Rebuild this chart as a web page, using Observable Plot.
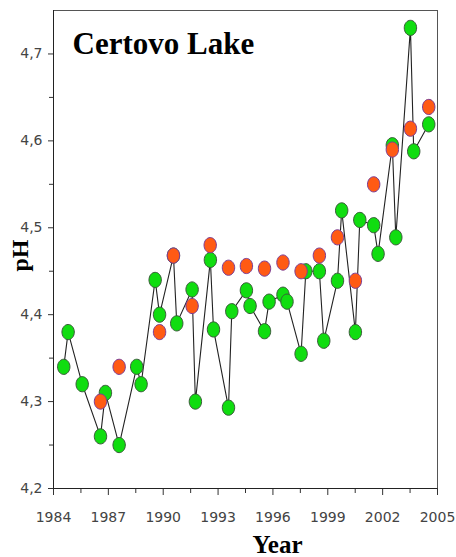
<!DOCTYPE html>
<html>
<head>
<meta charset="utf-8">
<script src="https://cdn.jsdelivr.net/npm/d3@7"></script>
<script src="https://cdn.jsdelivr.net/npm/@observablehq/plot@0.6"></script>
<style>
  html, body { margin: 0; padding: 0; background: #fff; }
  svg { display: block; }
</style>
</head>
<body>
<div id="chart"></div>
<script>
// Green series (connected by a line), sampling dates as decimal years
const greenYear = [1984.56, 1984.80, 1985.57, 1986.57, 1986.84, 1987.59, 1988.55, 1988.79,
  1989.56, 1989.80, 1990.56, 1990.74, 1991.58, 1991.76, 1992.58, 1992.75, 1993.57, 1993.75,
  1994.55, 1994.75, 1995.54, 1995.79, 1996.55, 1996.77, 1997.54, 1997.80, 1998.54, 1998.78,
  1999.53, 1999.76, 2000.51, 2000.75, 2001.51, 2001.75, 2002.53, 2002.72, 2003.52, 2003.70, 2004.52];
const greenPH = [4.340, 4.380, 4.320, 4.260, 4.310, 4.250, 4.340, 4.320,
  4.440, 4.400, 4.468, 4.390, 4.429, 4.300, 4.463, 4.383, 4.293, 4.404,
  4.428, 4.410, 4.381, 4.415, 4.423, 4.415, 4.355, 4.450, 4.450, 4.370,
  4.439, 4.520, 4.380, 4.509, 4.503, 4.470, 4.595, 4.489, 4.730, 4.588, 4.619];

// Orange series (points only)
const redYear = [1986.57, 1987.59, 1989.80, 1990.56, 1991.58, 1992.57, 1993.57, 1994.55, 1995.54,
  1996.55, 1997.54, 1998.54, 1999.53, 2000.51, 2001.51, 2002.53, 2003.52, 2004.52];
const redPH = [4.300, 4.340, 4.380, 4.468, 4.410, 4.480, 4.454, 4.456, 4.453,
  4.460, 4.450, 4.468, 4.489, 4.439, 4.550, 4.590, 4.614, 4.639];

const xTicks = [1984, 1987, 1990, 1993, 1996, 1999, 2002, 2005];
const xMinor = [1985.5, 1988.5, 1991.5, 1994.5, 1997.5, 2000.5, 2003.5];
const yTicks = [4.2, 4.3, 4.4, 4.5, 4.6, 4.7];
const yMinor = [4.25, 4.35, 4.45, 4.55, 4.65];

const title = "Certovo Lake";
const xLabel = "Year";
const yLabel = "pH";

const green = greenYear.map((x, i) => ({x, y: greenPH[i]}));
const red = redYear.map((x, i) => ({x, y: redPH[i]}));

// slightly tall ellipse marker
const ellipse = {
  draw(ctx) {
    const rx = 6.2, ry = 7.6, k = 0.5523;
    ctx.moveTo(rx, 0);
    ctx.bezierCurveTo(rx, ry * k, rx * k, ry, 0, ry);
    ctx.bezierCurveTo(-rx * k, ry, -rx, ry * k, -rx, 0);
    ctx.bezierCurveTo(-rx, -ry * k, -rx * k, -ry, 0, -ry);
    ctx.bezierCurveTo(rx * k, -ry, rx, -ry * k, rx, 0);
    ctx.closePath();
  }
};

const font = "DejaVu Sans";
const serif = "Liberation Serif";

const chart = Plot.plot({
  width: 456,
  height: 557,
  marginLeft: 53,
  marginRight: 19,
  marginTop: 10,
  marginBottom: 69,
  style: {fontFamily: font, background: "#fff"},
  x: {domain: [1984, 2005]},
  y: {domain: [4.2, 4.75]},
  marks: [
    Plot.frame({stroke: "#555", strokeWidth: 1}),
    Plot.axisX(xTicks, {tickSize: 7, tickPadding: 17, tickFormat: d => String(d), fontSize: 14, fill: "#444", stroke: "#333", label: null}),
    Plot.axisX(xMinor, {tickSize: 5, tickFormat: () => "", stroke: "#333", label: null}),
    Plot.axisY(yTicks, {tickSize: 5, tickPadding: 6, tickFormat: d => d.toFixed(1).replace(".", ","), fontSize: 14, fill: "#444", stroke: "#333", label: null}),
    Plot.axisY(yMinor, {tickSize: 4, tickFormat: () => "", stroke: "#333", label: null}),
    Plot.ruleX([1984], {stroke: "#222"}),
    Plot.ruleY([4.2], {stroke: "#222"}),
    Plot.line(green, {x: "x", y: "y", stroke: "#222", strokeWidth: 1.1}),
    Plot.dot(green, {x: "x", y: "y", symbol: ellipse, fill: "#10dd10", stroke: "#3a5a3a", strokeWidth: 1}),
    Plot.dot(red, {x: "x", y: "y", symbol: ellipse, fill: "#ff5a14", stroke: "#7a3c96", strokeWidth: 1}),
    Plot.text([title], {frameAnchor: "top-left", dx: 19, dy: 34, textAnchor: "start", lineAnchor: "middle", fontFamily: serif, fontWeight: "bold", fontSize: 31, fill: "#000"}),
    Plot.text([xLabel], {frameAnchor: "bottom", dx: 32, dy: 56, textAnchor: "middle", lineAnchor: "middle", fontFamily: serif, fontWeight: "bold", fontSize: 25, fill: "#000"}),
    Plot.text([yLabel], {frameAnchor: "left", dx: -33, dy: 6, rotate: -90, textAnchor: "middle", lineAnchor: "middle", fontFamily: serif, fontWeight: "bold", fontSize: 24, fill: "#000"})
  ]
});
document.getElementById("chart").appendChild(chart);
</script>
</body>
</html>
